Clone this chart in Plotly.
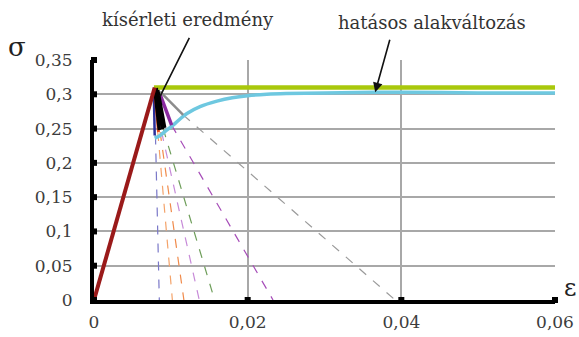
import plotly.graph_objects as go

# Tick values and labels (Hungarian decimal comma)
x_ticks = [0, 0.02, 0.04, 0.06]
x_tick_text = ["0", "0,02", "0,04", "0,06"]
y_ticks = [0, 0.05, 0.1, 0.15, 0.2, 0.25, 0.3, 0.35]
y_tick_text = ["0", "0,05", "0,1", "0,15", "0,2", "0,25", "0,3", "0,35"]

# Elastic loading branch
elastic_eps = [0.0, 0.0079]
elastic_sig = [0.0, 0.310]

# Perfectly plastic reference
plastic_eps = [0.0078, 0.06]
plastic_sig = [0.310, 0.310]

# Effective-strain (hatásos alakváltozás) curve
effective_eps = [0.0079, 0.0086, 0.0095, 0.0103, 0.0112, 0.0121, 0.0138, 0.016, 0.018,
                 0.020, 0.0225, 0.025, 0.03, 0.04, 0.05, 0.06]
effective_sig = [0.236, 0.240, 0.248, 0.255, 0.264, 0.272, 0.282, 0.290, 0.295,
                 0.298, 0.300, 0.301, 0.302, 0.303, 0.302, 0.302]

# Softening branches: solid part (computed) and dashed extension to zero stress
branch_colors = ["#2b2f9a", "#e8501e", "#8a2aa0", "#8c8c8c"]
branch_eps0 = [0.0078, 0.0079, 0.0086, 0.0086]
branch_sig0 = [0.296, 0.309, 0.300, 0.304]
branch_eps1 = [0.0079, 0.0084, 0.0101, 0.0116]
branch_sig1 = [0.240, 0.245, 0.255, 0.270]
branch_widths = [2.5, 3, 3.5, 2.5]

dash_colors = ["#7a78c8", "#f4a36a", "#f08a4a", "#c78ad8", "#6e9e5a", "#a64cb8", "#9a9a9a"]
dash_eps0 = [0.0080, 0.0083, 0.0086, 0.0088, 0.0090, 0.0101, 0.0116]
dash_sig0 = [0.240, 0.245, 0.245, 0.245, 0.250, 0.255, 0.270]
dash_eps1 = [0.0085, 0.0102, 0.0117, 0.0137, 0.0157, 0.0233, 0.0392]

# Bundle of experimental curves (drawn in black)
exp_eps0 = [0.0079, 0.0081, 0.0083]
exp_sig0 = [0.309, 0.309, 0.306]
exp_eps1 = [0.0085, 0.0089, 0.0092]
exp_sig1 = [0.248, 0.249, 0.251]

serif = "DejaVu Serif"
fig = go.Figure()

fig.add_trace(go.Scatter(x=plastic_eps, y=plastic_sig, mode="lines",
                         line=dict(color="#a9c80c", width=4.5)))

for c, e0, s0, e1 in zip(dash_colors, dash_eps0, dash_sig0, dash_eps1):
    fig.add_trace(go.Scatter(x=[e0, e1], y=[s0, 0], mode="lines",
                             line=dict(color=c, width=1.2, dash="dash")))

fig.add_trace(go.Scatter(x=effective_eps, y=effective_sig, mode="lines",
                         line=dict(color="#6ec8e0", width=3.5, shape="spline")))

for c, e0, s0, e1, s1, w in zip(branch_colors, branch_eps0, branch_sig0,
                                branch_eps1, branch_sig1, branch_widths):
    fig.add_trace(go.Scatter(x=[e0, e1], y=[s0, s1], mode="lines",
                             line=dict(color=c, width=w)))

for e0, s0, e1, s1 in zip(exp_eps0, exp_sig0, exp_eps1, exp_sig1):
    fig.add_trace(go.Scatter(x=[e0, e1], y=[s0, s1], mode="lines",
                             line=dict(color="#000000", width=3.5)))

fig.add_trace(go.Scatter(x=elastic_eps, y=elastic_sig, mode="lines",
                         line=dict(color="#9a1a1a", width=4)))

# Square tick marks on the axes
fig.add_trace(go.Scatter(x=[0] * len(y_ticks), y=y_ticks, mode="markers",
                         marker=dict(symbol="square", size=6, color="#000000"),
                         cliponaxis=False))
fig.add_trace(go.Scatter(x=x_ticks, y=[0] * len(x_ticks), mode="markers",
                         marker=dict(symbol="square", size=6, color="#000000"),
                         cliponaxis=False))

label_font = dict(family=serif, size=17, color="#3c3c3c")

fig.update_xaxes(range=[0, 0.06], tickvals=x_ticks, ticktext=x_tick_text,
                 showgrid=True, gridcolor="#a8a8a8", gridwidth=2, automargin=False,
                 zeroline=False, showline=True, linecolor="#000000", linewidth=4,
                 ticks="", ticklabelstandoff=4, tickfont=label_font)
fig.update_yaxes(range=[0, 0.35], tickvals=y_ticks, ticktext=y_tick_text,
                 showgrid=True, gridcolor="#a8a8a8", gridwidth=2, automargin=False,
                 zeroline=False, showline=True, linecolor="#000000", linewidth=4,
                 ticks="", ticklabelstandoff=14, tickfont=label_font)

ann_font = dict(family=serif, size=18, color="#333333")
fig.update_layout(
    width=579, height=337,
    margin=dict(l=94, r=24, t=60, b=37),
    plot_bgcolor="white", paper_bgcolor="white",
    showlegend=False,
    font=dict(family=serif),
    annotations=[
        dict(text="kísérleti eredmény", xref="paper", yref="paper", x=0.204, y=1.17,
             showarrow=False, font=ann_font, xanchor="center", yanchor="middle"),
        dict(text="hatásos alakváltozás", xref="paper", yref="paper", x=0.733, y=1.155,
             showarrow=False, font=ann_font, xanchor="center", yanchor="middle"),
        dict(text="", x=0.0086, y=0.297, xref="x", yref="y", showarrow=True,
             ax=30, ay=-60, arrowhead=0, arrowwidth=1.6, arrowcolor="#111111"),
        dict(text="", x=0.0366, y=0.303, xref="x", yref="y", showarrow=True,
             ax=15, ay=-54, arrowhead=2, arrowsize=1.2, arrowwidth=1.6, arrowcolor="#111111"),
        dict(text="σ", xref="paper", yref="paper", x=-0.167, y=1.054, showarrow=False,
             font=dict(family=serif, size=26, color="#222222"),
             xanchor="center", yanchor="middle"),
        dict(text="ε", xref="paper", yref="paper", x=1.05, y=0.05, showarrow=False,
             font=dict(family=serif, size=24, color="#222222"),
             xanchor="right", yanchor="middle"),
    ],
)

fig.write_html("out.html")
